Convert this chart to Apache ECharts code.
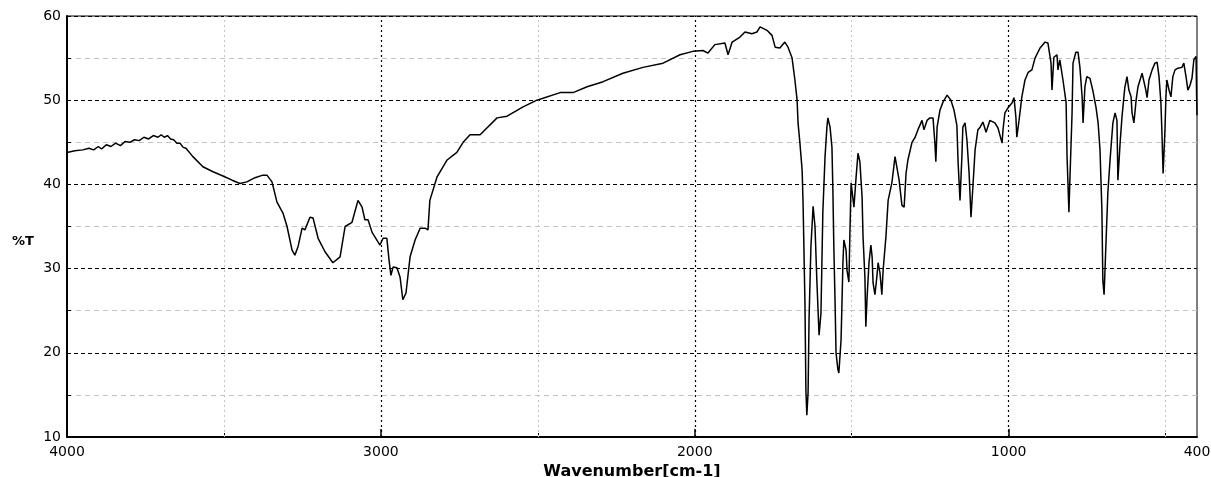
<!DOCTYPE html>
<html>
<head>
<meta charset="utf-8">
<script src="https://cdn.jsdelivr.net/npm/echarts@6/dist/echarts.min.js"></script>
<style>html,body{margin:0;padding:0;background:#fff}#c{width:1211px;height:477px}</style>
</head>
<body>
<div id="c"></div>
<script>
// Wavenumber (cm-1) and %T
const wavenumbers = [
4000,3975,3950,3930,3915,3900,3890,3875,3860,3845,3830,3815,3800,3785,3770,3755,3740,3725,3710,3700,3690,3680,3670,3660,3650,3640,3630,3621,3599,3567,3535,3503,3474,3449,3427,3401,3376,3363,3347,3331,3312,3299,3283,3274,3264,3251,3242,3226,3216,3200,3178,3153,3130,3114,3092,3073,3060,3051,3041,3028,3003,2993,2981,2974,2968,2961,2949,2939,2930,2920,2907,2891,2875,2859,2850,2844,2821,2789,2758,2738,2716,2684,2630,2598,2547,2503,2429,2388,2343,2292,2229,2165,2101,2047,2006,1974,1958,1936,1904,1894,1881,1856,1840,1818,1802,1792,1770,1754,1744,1729,1713,1703,1690,1681,1674,1671,1665,1658,1655,1649,1646,1643,1639,1636,1630,1623,1617,1611,1604,1598,1595,1592,1585,1579,1576,1569,1563,1560,1557,1553,1550,1544,1541,1534,1531,1528,1525,1518,1515,1509,1506,1502,1496,1493,1486,1480,1474,1467,1464,1458,1455,1451,1445,1439,1435,1432,1426,1420,1416,1410,1404,1400,1391,1384,1372,1362,1356,1349,1340,1333,1327,1321,1308,1298,1289,1276,1270,1260,1251,1241,1235,1232,1228,1219,1209,1196,1184,1174,1165,1161,1155,1149,1146,1139,1133,1126,1120,1114,1107,1098,1091,1082,1072,1060,1044,1034,1028,1021,1018,1012,1002,989,983,977,974,967,958,948,938,926,916,900,884,875,865,862,856,846,843,837,827,817,814,808,805,798,795,786,779,773,766,763,757,751,741,731,722,715,709,703,700,696,690,684,677,668,661,655,652,645,639,630,623,617,610,607,601,594,588,575,569,563,559,553,543,534,527,521,515,512,508,502,499,496,489,483,477,470,461,448,442,435,429,422,416,410,406,403,401,400
];
const transmittance = [
43.8,44.0,44.1,44.3,44.1,44.5,44.2,44.7,44.5,44.9,44.6,45.1,45.0,45.3,45.2,45.6,45.4,45.8,45.6,45.9,45.6,45.8,45.4,45.3,44.9,44.9,44.4,44.3,43.3,42.1,41.5,41.0,40.5,40.1,40.3,40.8,41.1,41.1,40.3,37.9,36.6,35.0,32.2,31.6,32.6,34.8,34.6,36.1,36.0,33.6,32.0,30.7,31.4,35.0,35.5,38.1,37.3,35.8,35.8,34.3,32.8,33.6,33.6,31.0,29.2,30.2,30.1,29.0,26.3,27.1,31.4,33.4,34.8,34.8,34.6,38.1,40.9,42.9,43.8,45.0,45.9,45.9,47.9,48.1,49.2,50.0,50.9,50.9,51.6,52.2,53.2,53.9,54.4,55.4,55.8,55.9,55.6,56.6,56.8,55.4,56.9,57.5,58.1,57.9,58.1,58.7,58.3,57.7,56.3,56.2,56.9,56.3,55.0,52.4,50.0,47.3,44.9,41.7,37.8,25.9,15.6,12.6,15.3,23.9,32.6,37.4,35.0,28.5,22.1,24.7,30.7,36.7,43.3,46.8,47.9,46.8,44.4,39.3,32.6,25.9,20.0,18.0,17.6,21.5,25.9,30.7,33.4,32.2,29.8,28.4,33.8,40.2,40.0,37.3,40.9,43.7,42.7,38.5,33.8,29.0,23.1,26.6,30.7,32.8,31.4,28.3,26.9,29.0,30.7,29.5,26.9,29.8,33.8,38.1,40.2,43.3,43.1,40.5,37.5,37.3,41.3,42.9,45.0,45.6,46.5,47.6,46.5,47.6,47.9,47.9,44.9,42.7,46.8,48.8,49.8,50.6,50.0,48.8,47.0,42.5,38.1,43.3,46.8,47.3,45.3,41.3,36.1,39.7,44.1,46.5,46.8,47.4,46.2,47.6,47.3,46.7,46.5,44.9,46.5,48.5,49.1,49.7,50.3,48.0,45.6,47.6,50.4,52.4,53.3,53.6,55.0,56.2,56.9,56.8,54.4,51.2,55.1,55.4,53.6,54.8,52.4,49.7,43.3,36.7,40.5,48.5,54.4,55.7,55.7,53.9,50.4,47.3,51.6,52.8,52.6,51.0,49.2,47.3,44.1,37.0,28.6,26.9,33.0,39.0,42.9,47.3,48.5,47.6,40.5,44.9,48.0,51.5,52.8,51.2,50.4,48.5,47.3,50.0,51.6,53.2,53.2,51.2,50.3,52.4,53.6,54.4,54.5,52.8,49.7,46.5,41.3,46.5,50.4,52.4,51.2,50.4,52.8,53.6,53.8,53.9,54.4,52.8,51.2,51.8,52.6,54.8,55.0,55.2,50.0,48.2
];
const xLabelValues = [4000, 3000, 2000, 1000, 400];
const xMajorLines = [1000, 2000, 3000];
const xMinorLines = [500, 1500, 2500, 3500];

const points = wavenumbers.map((w, i) => [w, transmittance[i]]);
const FONT = 'DejaVu Sans';

const chart = echarts.init(document.getElementById('c'), null, {renderer: 'canvas'});
chart.setOption({
  animation: false,
  backgroundColor: '#fff',
  grid: {left: 67, right: 14, top: 16, bottom: 40, show: true, borderColor: '#000', borderWidth: 1,
         containLabel: false, outerBoundsMode: 'none'},
  xAxis: [{
    type: 'value', min: 400, max: 4000, inverse: true, position: 'bottom',
    axisLine: {show: true, lineStyle: {color: '#000', width: 2}},
    axisTick: {show: true, inside: true, length: 8, customValues: xMajorLines, lineStyle: {color: '#000', width: 1.5}},
    axisLabel: {customValues: xLabelValues, formatter: v => String(v), color: '#000', fontFamily: FONT, fontSize: 14, margin: 8},
    splitLine: {show: false},
    name: 'Wavenumber[cm-1]', nameLocation: 'middle', nameGap: 26,
    nameTextStyle: {color: '#000', fontFamily: FONT, fontSize: 16, fontWeight: 'bold'}
  }, {
    type: 'value', min: 400, max: 4000, inverse: true, position: 'bottom',
    axisLine: {show: false},
    axisTick: {show: true, inside: true, length: 4, customValues: xMinorLines, lineStyle: {color: '#000', width: 1}},
    axisLabel: {show: false},
    splitLine: {show: false}
  }],
  yAxis: {
    type: 'value', min: 10, max: 60, interval: 10,
    axisLine: {show: true, lineStyle: {color: '#000', width: 2}},
    axisTick: {show: true, inside: true, length: 4, lineStyle: {color: '#000'}},
    minorTick: {show: true, splitNumber: 2, length: 4, lineStyle: {color: '#000', width: 1}},
    axisLabel: {color: '#000', fontFamily: FONT, fontSize: 14, margin: 6},
    splitLine: {show: true, lineStyle: {color: '#000', width: 1, type: [4, 3]}},
    minorSplitLine: {show: true, lineStyle: {color: '#c4c4c4', width: 1, type: [5, 4]}}
  },
  graphic: [{
    type: 'text', left: 12, top: 235,
    style: {text: '%T', fill: '#000', font: 'bold 13px "DejaVu Sans"'}
  }],
  series: [{
    type: 'line', data: points, xAxisIndex: 0, showSymbol: false, symbol: 'none',
    lineStyle: {color: '#000', width: 1.5}, z: 3,
    markLine: {
      silent: true, symbol: 'none', z: 1, animation: false,
      label: {show: false},
      data: xMajorLines.map(v => ({xAxis: v, lineStyle: {color: '#000', width: 1.2, type: [2, 3]}}))
        .concat(xMinorLines.map(v => ({xAxis: v, lineStyle: {color: '#c4c4c4', width: 1, type: [2, 3]}})))
    }
  }]
});
</script>
</body>
</html>
